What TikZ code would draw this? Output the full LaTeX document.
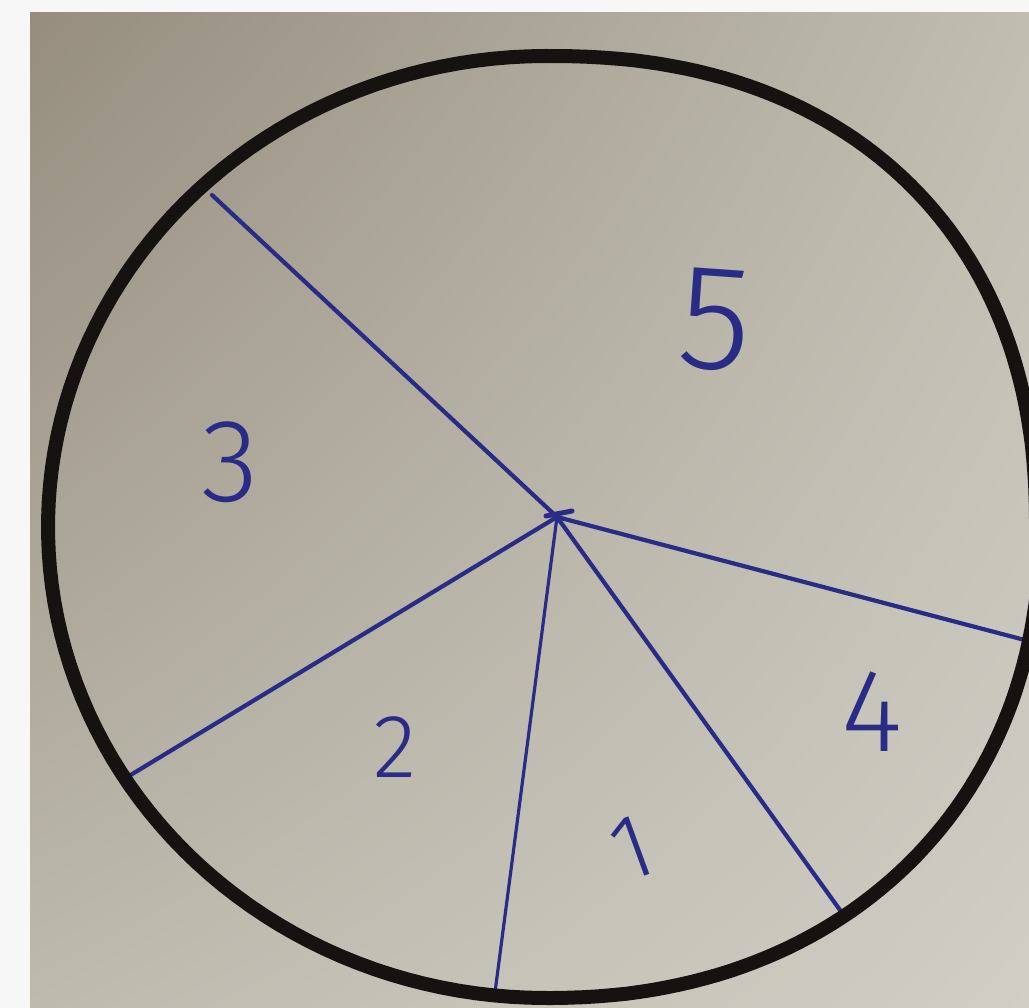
\documentclass[tikz,border=0pt]{standalone}
\usepackage{fontspec}
\usetikzlibrary{shadings}
\newfontfamily\handfont{Fira Sans}[UprightFont=* Light]
\definecolor{paperA}{RGB}{150,141,126}
\definecolor{paperB}{RGB}{192,189,177}
\definecolor{paperC}{RGB}{190,186,174}
\definecolor{paperD}{RGB}{208,206,197}
\definecolor{rimcol}{RGB}{22,18,16}
\definecolor{ink}{RGB}{40,44,134}
\begin{document}
\begin{tikzpicture}[x=1pt,y=-1pt,
  rim/.style={line width=14pt, draw=rimcol, line join=round},
  pen/.style={line width=4.2pt, draw=ink, line cap=round},
  thinpen/.style={line width=3.2pt, draw=ink, line cap=round},
  digit/.style={text=ink, font=\handfont, inner sep=0pt}]
\useasboundingbox (0,0) rectangle (1029,1008);
\clip (0,0) rectangle (1029,1008);
\fill[white!97!black] (0,0) rectangle (1029,1008);
\shade[upper left=paperA, upper right=paperB, lower left=paperC, lower right=paperD] (30,13) rectangle (1029,1008);
% hub and spoke ends
\coordinate (hub) at (557,517);
\coordinate (eUL) at (212,195);
\coordinate (eL) at (124,779);
\coordinate (eB) at (494,1000);
\coordinate (eBR) at (845,917);
\coordinate (eR) at (1040,644);
\coordinate (tickA) at (546,516);
\coordinate (tickB) at (572,511);
\draw[pen] (hub) -- (eUL);
\draw[pen] (hub) -- (eL);
\draw[thinpen] (hub) -- (eB);
\draw[pen] (hub) -- (eBR);
\draw[pen] (hub) -- (eR);
\draw[pen, line width=5pt] (tickA) -- (tickB);
% rim of the disc
\draw[rim]
  plot[domain=90:270, samples=90] ({546+498*cos(\x)}, {527-471*sin(\x)})
  -- plot[domain=-89.5:-0.5, samples=60] ({546+494*pow(cos(\x),0.93)}, {527+471*pow(-sin(\x),0.93)})
  -- plot[domain=0.5:89.5, samples=60] ({546+490*pow(cos(\x),0.889)}, {527-471*pow(sin(\x),0.889)})
  -- cycle;
% labels
\node[digit, font=\handfont\fontsize{150}{150}\selectfont, rotate=-4] (l5) at (715,320) {5};
\node[digit, font=\handfont\fontsize{118}{118}\selectfont] (l3) at (230,462) {3};
\node[digit, font=\handfont\fontsize{90}{90}\selectfont] (l2) at (395,747) {2};
\node[digit, font=\handfont\fontsize{92}{92}\selectfont, rotate=20] (l1) at (632,848) {1};
\node[digit, font=\handfont\fontsize{118}{118}\selectfont] (l4) at (872,712) {4};
\end{tikzpicture}
\end{document}
